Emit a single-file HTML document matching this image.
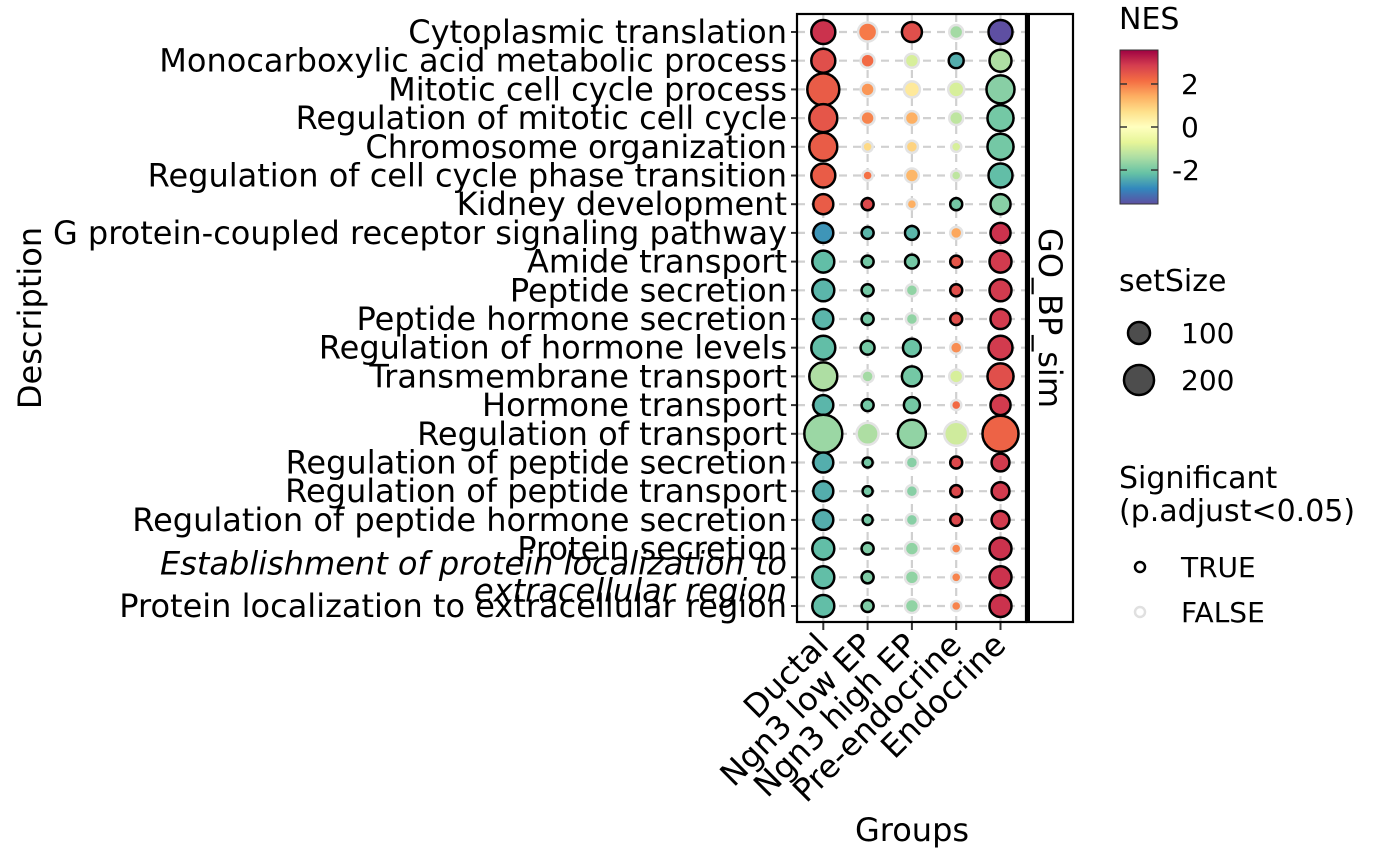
<!DOCTYPE html>
<html><head><meta charset="utf-8"><style>
html,body{margin:0;padding:0;background:#fff;}
svg{display:block;font-family:"DejaVu Sans","Liberation Sans",sans-serif;}
</style></head><body>
<svg id="chart" width="1400" height="866" viewBox="0 0 1400 866">
<defs>
<linearGradient id="nesGrad" x1="0" y1="0" x2="0" y2="1">
<stop offset="0" stop-color="#9E0142"/><stop offset="0.1" stop-color="#D53E4F"/><stop offset="0.2" stop-color="#F46D43"/><stop offset="0.3" stop-color="#FDAE61"/><stop offset="0.4" stop-color="#FEE08B"/><stop offset="0.5" stop-color="#FFFFBF"/><stop offset="0.6" stop-color="#E6F598"/><stop offset="0.7" stop-color="#ABDDA4"/><stop offset="0.8" stop-color="#66C2A5"/><stop offset="0.9" stop-color="#3288BD"/><stop offset="1" stop-color="#5E4FA2"/>
</linearGradient>
</defs>
<g id="grid"></g>
<g id="dots"></g>
<rect x="797" y="14" width="229" height="608" fill="none" stroke="#000" stroke-width="2.2"/>
<rect x="1027" y="14" width="46" height="608" fill="#fff" stroke="#000" stroke-width="2.2"/>
<line x1="1028" y1="14" x2="1028" y2="622" stroke="#000" stroke-width="4"/>
<text x="1050" y="318" font-size="32" text-anchor="middle" dominant-baseline="central" transform="rotate(90 1050 318)">GO_BP_sim</text>
<g id="ylabels"></g>
<g id="xlabels"></g>
<text x="912" y="841" font-size="32" text-anchor="middle">Groups</text>
<text x="0" y="0" font-size="32" text-anchor="middle" transform="translate(41 318) rotate(-90)">Description</text>
<g>
<text x="1119" y="29" font-size="30">NES</text>
<rect x="1120" y="50" width="38" height="154" fill="url(#nesGrad)" stroke="#333" stroke-width="1"/>
<g id="cbticks"></g>
</g>
<g>
<text x="1119" y="291" font-size="30">setSize</text>
<circle cx="1139" cy="333" r="11" fill="#4D4D4D" stroke="#000" stroke-width="2.5"/>
<text x="1181" y="343" font-size="28">100</text>
<circle cx="1139" cy="380" r="15" fill="#4D4D4D" stroke="#000" stroke-width="2.5"/>
<text x="1181" y="390" font-size="28">200</text>
</g>
<g>
<text x="1119" y="488" font-size="30">Significant</text>
<text x="1119" y="521" font-size="30">(p.adjust&lt;0.05)</text>
<circle cx="1140" cy="567" r="5" fill="#fff" stroke="#000" stroke-width="2.5"/>
<text x="1181" y="577" font-size="28">TRUE</text>
<circle cx="1140" cy="612" r="5" fill="#fff" stroke="#E0E0E0" stroke-width="2.5"/>
<text x="1181" y="622" font-size="28">FALSE</text>
</g>
</svg>
<script>
const groups = ["Ductal","Ngn3 low EP","Ngn3 high EP","Pre-endocrine","Endocrine"];
const terms = ["Cytoplasmic translation","Monocarboxylic acid metabolic process","Mitotic cell cycle process","Regulation of mitotic cell cycle","Chromosome organization","Regulation of cell cycle phase transition","Kidney development","G protein-coupled receptor signaling pathway","Amide transport","Peptide secretion","Peptide hormone secretion","Regulation of hormone levels","Transmembrane transport","Hormone transport","Regulation of transport","Regulation of peptide secretion","Regulation of peptide transport","Regulation of peptide hormone secretion","Protein secretion","Establishment of protein localization to extracellular region","Protein localization to extracellular region"];
const nes = [
[3.0,2.0,2.6,-1.5,-3.6],[2.6,2.2,-0.9,-2.4,-1.4],[2.4,1.7,0.5,-0.9,-1.8],[2.5,1.9,1.4,-1.2,-2.0],[2.4,0.8,0.9,-0.9,-2.0],[2.4,2.1,1.3,-1.2,-2.2],[2.4,2.7,1.4,-2.0,-1.8],[-2.7,-2.3,-2.3,1.5,3.0],[-2.2,-2.0,-2.0,2.5,2.9],[-2.3,-2.0,-1.7,2.6,2.9],[-2.3,-2.0,-1.7,2.6,2.9],[-2.2,-2.0,-2.1,1.8,2.9],[-1.4,-1.5,-2.0,-0.9,2.6],[-2.3,-2.0,-2.0,2.2,2.9],[-1.6,-1.4,-1.7,-1.0,2.3],[-2.4,-2.0,-1.8,2.7,2.9],[-2.4,-2.0,-1.8,2.7,2.9],[-2.4,-2.0,-1.8,2.7,2.9],[-2.2,-1.9,-1.7,1.9,3.0],[-2.2,-1.9,-1.7,1.9,3.0],[-2.2,-1.9,-1.7,1.9,3.0]];
const setSize = [
[119,75,83,40,119],[119,40,40,46,100],[212,40,53,53,162],[162,40,40,40,140],[162,21,30,21,140],[119,21,40,21,119],[83,30,21,30,83],[83,30,40,30,83],[100,30,40,30,100],[100,30,30,30,100],[83,30,30,30,83],[119,40,66,30,119],[162,30,83,40,140],[83,30,53,21,83],[298,100,162,119,268],[83,21,30,30,66],[83,21,30,30,66],[83,21,30,30,66],[100,30,40,21,100],[100,30,40,21,100],[100,30,40,21,100]];
const significant = [
[1,0,1,0,1],[1,0,0,1,1],[1,0,0,0,1],[1,0,0,0,1],[1,0,0,0,1],[1,0,0,0,1],[1,1,0,1,1],[1,1,1,0,1],[1,1,1,1,1],[1,1,0,1,1],[1,1,0,1,1],[1,1,1,0,1],[1,0,1,0,1],[1,1,1,0,1],[1,0,1,0,1],[1,1,0,1,1],[1,1,0,1,1],[1,1,0,1,1],[1,1,0,0,1],[1,1,0,0,1],[1,1,0,0,1]];
const cbTicks = [2,0,-2];

const NS="http://www.w3.org/2000/svg";
const xPos = i => 823.3 + i*44.3;
const yPos = j => 32 + j*28.7;
const rScale = s => 1.1*Math.sqrt(s);
const nesMax = 3.58;
const cbY = v => 50 + (nesMax - v)/(2*nesMax)*154;
const stops=["#9E0142","#D53E4F","#F46D43","#FDAE61","#FEE08B","#FFFFBF","#E6F598","#ABDDA4","#66C2A5","#3288BD","#5E4FA2"];
function hex(c){return [1,3,5].map(k=>parseInt(c.substr(k,2),16));}
function colorOf(v){
  let t=(nesMax - v)/(2*nesMax); t=Math.max(0,Math.min(1,t));
  const p=t*10, i=Math.min(9,Math.floor(p)), f=p-i;
  const a=hex(stops[i]), b=hex(stops[i+1]);
  return "rgb("+a.map((x,k)=>Math.round(x+(b[k]-x)*f)).join(",")+")";
}
function mk(tag,attrs,parent){const e=document.createElementNS(NS,tag);for(const k in attrs)e.setAttribute(k,attrs[k]);parent.appendChild(e);return e;}

const grid=document.getElementById("grid");
terms.forEach((t,j)=>{
  const l=mk("line",{x1:797,x2:1026,y1:yPos(j),y2:yPos(j),stroke:"#D0D0D0","stroke-width":2.2,"stroke-dasharray":"8 6"},grid);
  
  
  const tk=mk("line",{x1:791,x2:797,y1:yPos(j),y2:yPos(j),stroke:"#333","stroke-width":2},grid);
  
  
});
groups.forEach((g,i)=>{
  const l=mk("line",{x1:xPos(i),x2:xPos(i),y1:14,y2:622,stroke:"#D0D0D0","stroke-width":2.2,"stroke-dasharray":"8 6"},grid);
  
  
  const tk=mk("line",{x1:xPos(i),x2:xPos(i),y1:622,y2:630,stroke:"#333","stroke-width":2},grid);
  
  
});

const dots=document.getElementById("dots");
terms.forEach((t,j)=>{
  groups.forEach((g,i)=>{
    const c=mk("circle",{cx:xPos(i),cy:yPos(j),r:rScale(setSize[j][i]),fill:colorOf(nes[j][i]),stroke:significant[j][i]?"#000":"#E3E3E3","stroke-width":2.5},dots);
    
    
  });
});

const yl=document.getElementById("ylabels");
terms.forEach((t,j)=>{
  if(t.startsWith("Establishment")){
    const a=mk("text",{x:787,y:yPos(j)-3,"font-size":32,"text-anchor":"end","font-style":"italic"},yl);
    a.textContent="Establishment of protein localization to";
    
    
    const b=mk("text",{x:787,y:yPos(j)+24,"font-size":32,"text-anchor":"end","font-style":"italic"},yl);
    b.textContent="extracellular region";
    
    
  } else {
    const e=mk("text",{x:787,y:yPos(j)+11,"font-size":32,"text-anchor":"end"},yl);
    e.textContent=t;
    
    
  }
});

const xl=document.getElementById("xlabels");
groups.forEach((g,i)=>{
  const x=xPos(i)+7, y=647;
  const e=mk("text",{x:x,y:y,"font-size":32,"text-anchor":"end",transform:"rotate(-45 "+x+" "+y+")"},xl);
  e.textContent=g;
  
  
});

const cb=document.getElementById("cbticks");
cbTicks.forEach(v=>{
  const y=cbY(v);
  const a=mk("line",{x1:1120,x2:1127,y1:y,y2:y,stroke:"#333","stroke-width":1.5},cb);
  
  
  const b=mk("line",{x1:1151,x2:1158,y1:y,y2:y,stroke:"#333","stroke-width":1.5},cb);
  
  
  const t=mk("text",{x:v<0?1172:1181,y:y+10,"font-size":28},cb);
  t.textContent=String(v);
  
  
});
</script>
</body></html>
